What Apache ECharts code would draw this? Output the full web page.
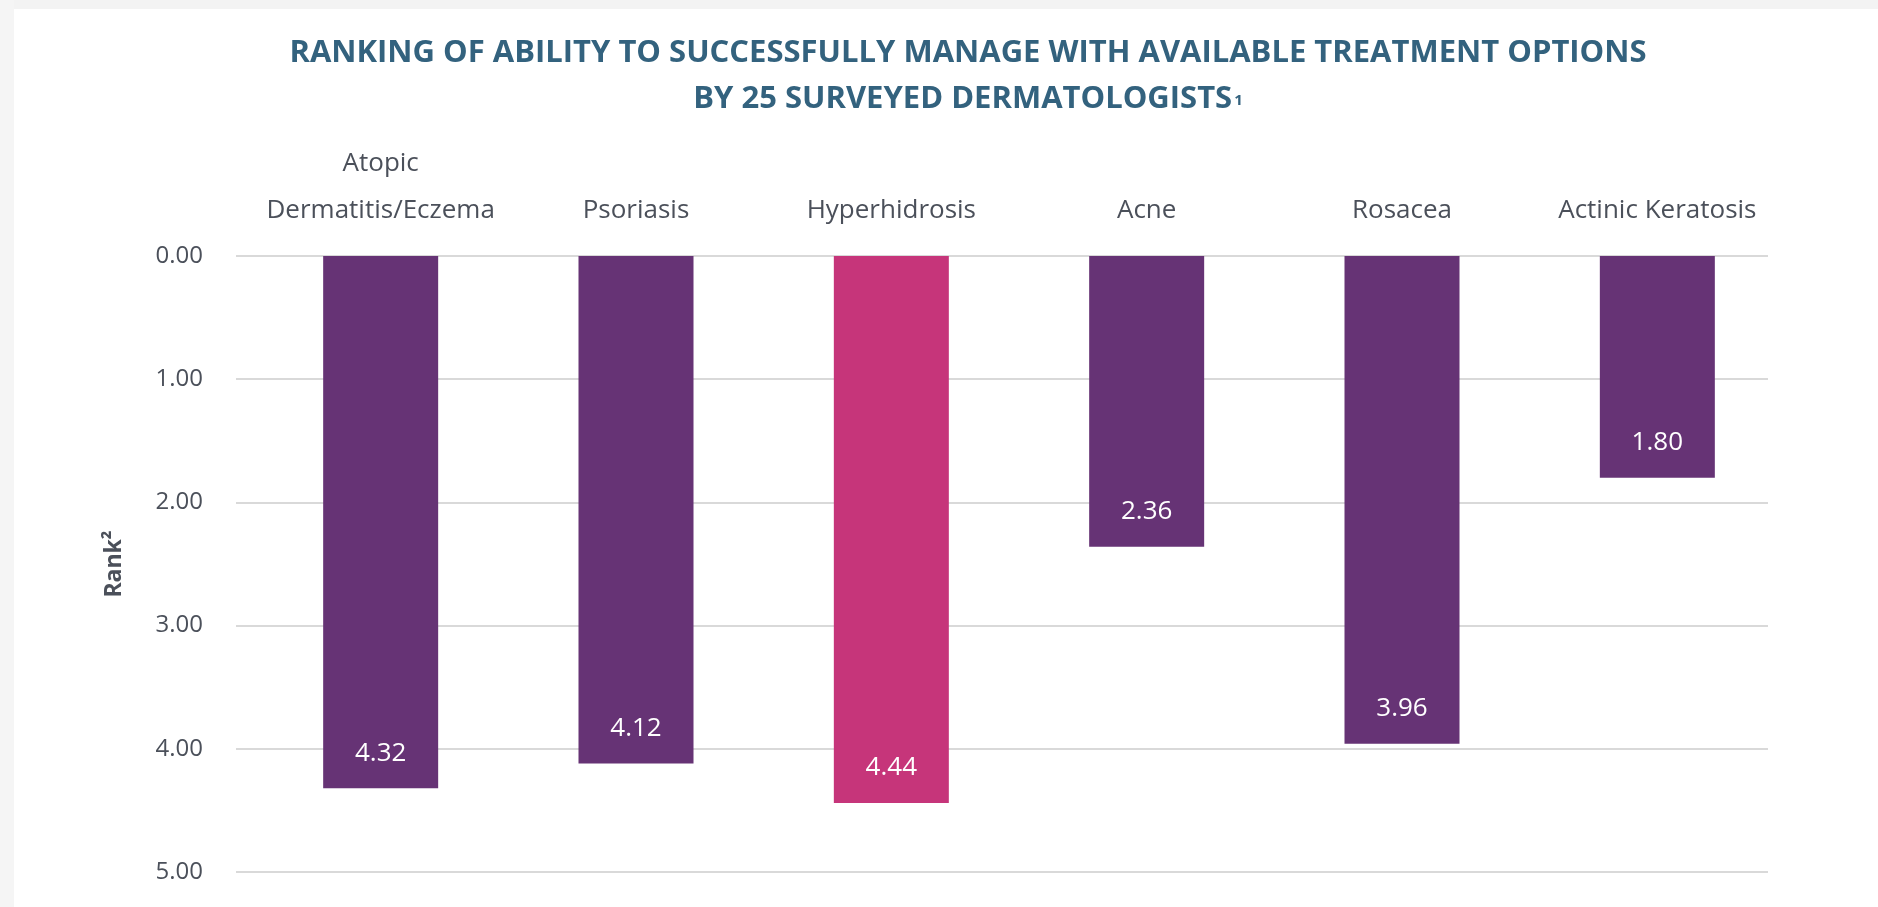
<!DOCTYPE html>
<html>
<head>
<meta charset="utf-8">
<script src="https://cdn.jsdelivr.net/npm/echarts@6/dist/echarts.min.js"></script>
<style>
html,body{margin:0;padding:0;background:#fff;}
#chart{width:1878px;height:907px;}
</style>
</head>
<body>
<div id="chart"></div>
<script>
const categories = ['Atopic\nDermatitis/Eczema', 'Psoriasis', 'Hyperhidrosis', 'Acne', 'Rosacea', 'Actinic Keratosis'];
const rankValues = [4.32, 4.12, 4.44, 2.36, 3.96, 1.80];
const highlightCategory = 'Hyperhidrosis';
const yTicks = [0, 1, 2, 3, 4, 5];
const titleLine1 = 'RANKING OF ABILITY TO SUCCESSFULLY MANAGE WITH AVAILABLE TREATMENT OPTIONS';
const titleLine2 = 'BY 25 SURVEYED DERMATOLOGISTS';
const yAxisName = 'Rank²';

const purple = '#663375';
const pink = '#c6357a';
const textColor = '#4b505a';
const titleColor = '#33627e';

const chart = echarts.init(document.getElementById('chart'), null, {renderer: 'canvas'});

const barData = rankValues.map((v, i) => ({
  value: v,
  itemStyle: {color: categories[i] === highlightCategory ? pink : purple}
}));

const option = {
  backgroundColor: '#ffffff',
  animation: false,
  graphic: [
    {type: 'rect', left: 0, top: 0, shape: {width: 1878, height: 9}, style: {fill: '#f3f3f3'}, silent: true},
    {type: 'rect', left: 0, top: 0, shape: {width: 14, height: 907}, style: {fill: '#f5f5f5'}, silent: true}
  ],
  title: [
    {
      text: titleLine1,
      left: 968,
      textAlign: 'center',
      top: 38,
      padding: 0,
      textStyle: {fontFamily: 'Open Sans', fontWeight: 'bold', fontSize: 31, color: titleColor}
    },
    {
      text: '{m|' + titleLine2 + '}{s|1}',
      left: 968,
      textAlign: 'center',
      top: 84,
      padding: 0,
      textStyle: {
        rich: {
          m: {fontFamily: 'Open Sans', fontWeight: 'bold', fontSize: 31, color: titleColor},
          s: {fontFamily: 'Open Sans', fontWeight: 'bold', fontSize: 15, color: titleColor, padding: [3, 0, 0, 2]}
        }
      }
    }
  ],
  grid: [
    {left: 236, right: 110, top: 256, bottom: 35},
    {left: 253, right: 93, top: 256, bottom: 35}
  ],
  xAxis: [
    {
      type: 'category', gridIndex: 0, data: categories, show: false
    },
    {
      type: 'category', gridIndex: 1, data: categories, position: 'top',
      axisLine: {show: false}, axisTick: {show: false},
      axisLabel: {
        interval: 0, margin: 22, color: textColor, fontFamily: 'Open Sans', fontSize: 26, lineHeight: 47
      }
    }
  ],
  yAxis: [
    {
      type: 'value', gridIndex: 0, inverse: true, min: 0, max: 5, interval: 1,
      name: yAxisName, nameLocation: 'middle', nameGap: 110, nameRotate: 90,
      nameTextStyle: {color: textColor, fontFamily: 'Open Sans', fontWeight: 'bold', fontSize: 23},
      axisLine: {show: false}, axisTick: {show: false},
      axisLabel: {
        margin: 33, color: textColor, fontFamily: 'Open Sans', fontSize: 24,
        formatter: v => yTicks.includes(v) ? v.toFixed(2) : ''
      },
      splitLine: {show: true, lineStyle: {color: '#d9d9d9', width: 2}}
    },
    {
      type: 'value', gridIndex: 1, inverse: true, min: 0, max: 5, interval: 1,
      show: false, splitLine: {show: false}
    }
  ],
  series: [
    {
      type: 'bar', xAxisIndex: 1, yAxisIndex: 1,
      data: barData, barWidth: 115,
      label: {
        show: true, position: 'insideBottom', distance: 22,
        color: '#ffffff', fontFamily: 'Open Sans', fontSize: 26,
        formatter: p => p.value.toFixed(2)
      }
    }
  ]
};

chart.setOption(option);
</script>
</body>
</html>
